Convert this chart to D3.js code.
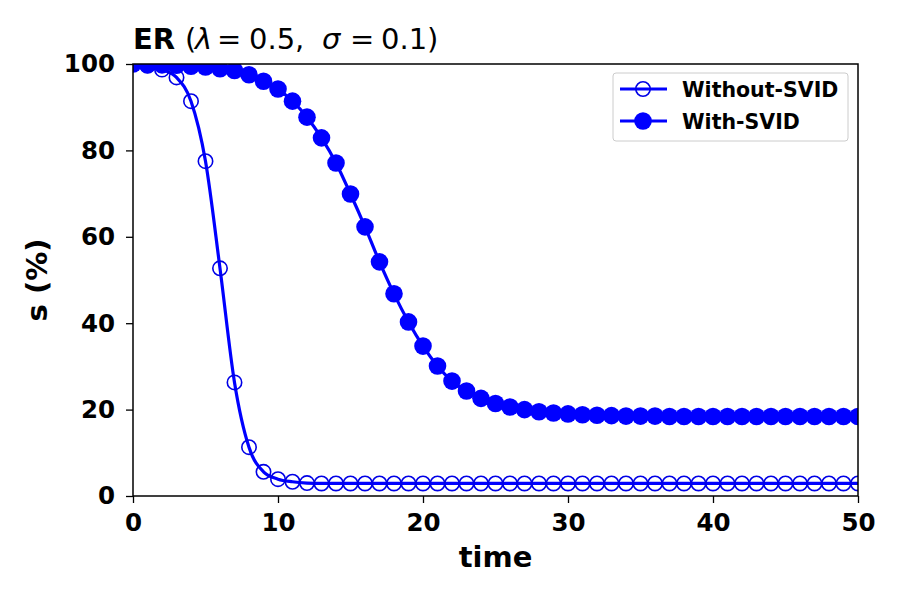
<!DOCTYPE html>
<html><head><meta charset="utf-8">
<script src="https://cdn.jsdelivr.net/npm/d3@7"></script>
<style>body{margin:0;background:#fff}svg{font-family:"DejaVu Sans",sans-serif}</style>
</head><body>
<svg id="c" width="900" height="600"></svg>
<script>
const time = d3.range(0, 51);
const withoutSVID = [100,99.6,98.7,96.9,91.4,77.5,52.7,26.3,11.3,5.6,3.9,3.3,3.0,2.9,2.9,2.9,2.9,2.9,2.9,2.9,2.9,2.9,2.9,2.9,2.9,2.9,2.9,2.9,2.9,2.9,2.9,2.9,2.9,2.9,2.9,2.9,2.9,2.9,2.9,2.9,2.9,2.9,2.9,2.9,2.9,2.9,2.9,2.9,2.9,2.9,2.9];
const withSVID = [100,99.9,99.8,99.7,99.5,99.3,98.9,98.5,97.5,96.0,94.2,91.4,87.7,82.9,77.1,69.9,62.3,54.2,46.8,40.3,34.7,30.1,26.6,24.3,22.6,21.4,20.6,20.0,19.5,19.2,19.0,18.8,18.7,18.6,18.5,18.5,18.5,18.4,18.4,18.4,18.4,18.4,18.4,18.4,18.4,18.4,18.4,18.4,18.4,18.4,18.4];
const xTicks = [0,10,20,30,40,50];
const yTicks = [0,20,40,60,80,100];
const seriesNames = ["Without-SVID","With-SVID"];

const svg = d3.select("#c");
const L=133,R=858,T=64,B=496;
const x = d3.scaleLinear().domain([0,50]).range([L,R]);
const y = d3.scaleLinear().domain([0,100]).range([B,T]);

svg.append("defs").append("clipPath").attr("id","clip").append("rect")
  .attr("x",L).attr("y",T).attr("width",R-L).attr("height",B-T);

const line = d3.line().x((d,i)=>x(time[i])).y(d=>y(d)).curve(d3.curveMonotoneX);
const g = svg.append("g").attr("clip-path","url(#clip)");

g.append("path").datum(withoutSVID).attr("d",line).attr("fill","none").attr("stroke","#0000ff").attr("stroke-width",3.2);
g.selectAll(".o").data(withoutSVID).enter().append("circle")
  .attr("cx",(d,i)=>x(time[i])).attr("cy",d=>y(d)).attr("r",7.2)
  .attr("fill","none").attr("stroke","#0000e6").attr("stroke-width",1.6);

g.append("path").datum(withSVID).attr("d",line).attr("fill","none").attr("stroke","#0000ff").attr("stroke-width",3.2);
g.selectAll(".f").data(withSVID).enter().append("circle")
  .attr("cx",(d,i)=>x(time[i])).attr("cy",d=>y(d)).attr("r",8.8)
  .attr("fill","#0000ff").attr("stroke","none");

// axes
const xa = svg.append("g").attr("transform",`translate(0,${B})`)
  .call(d3.axisBottom(x).tickValues(xTicks).tickSize(7).tickPadding(10).tickFormat(d3.format("d")));
const ya = svg.append("g").attr("transform",`translate(${L},0)`)
  .call(d3.axisLeft(y).tickValues(yTicks).tickSize(7).tickPadding(11).tickFormat(d3.format("d")));
[xa,ya].forEach(a=>{
  a.select(".domain").remove();
  a.selectAll("line").attr("stroke","#000").attr("stroke-width",1.3);
  a.selectAll("text").attr("font-size",24.5).attr("font-weight","bold").attr("fill","#000")
   .attr("font-family","DejaVu Sans");
});
xa.selectAll("text").attr("dy","0.73em");
svg.append("rect").attr("x",L).attr("y",T).attr("width",R-L).attr("height",B-T)
  .attr("fill","none").attr("stroke","#000").attr("stroke-width",1.5);

// labels
svg.append("text").attr("x",(L+R)/2).attr("y",567).attr("text-anchor","middle")
  .attr("font-size",29).attr("font-weight","bold").text("time");
svg.append("text").attr("transform",`translate(47,${(T+B)/2}) rotate(-90)`).attr("text-anchor","middle")
  .attr("font-size",29).attr("font-weight","bold").text("s (%)");

const title = svg.append("text").attr("y",49).attr("font-size",29);
const parts = [["ER","bold","normal",133],["(","normal","normal",185],["λ","normal","italic",195],
  ["=","normal","normal",217],["0.5,","normal","normal",249],["σ","normal","italic",322],
  ["=","normal","normal",350],["0.1)","normal","normal",381]];
parts.forEach(p=>title.append("tspan").attr("x",p[3]).attr("font-weight",p[1]).attr("font-style",p[2]).text(p[0]));

// legend
const lg = svg.append("g");
lg.append("rect").attr("x",613).attr("y",73).attr("width",235).attr("height",68).attr("rx",3)
  .attr("fill","#fff").attr("stroke","#ccc").attr("stroke-width",1);
const rows=[89,121];
seriesNames.forEach((n,i)=>{
  lg.append("line").attr("x1",620).attr("x2",667).attr("y1",rows[i]).attr("y2",rows[i])
    .attr("stroke","#0000ff").attr("stroke-width",3.2);
  if(i===0) lg.append("circle").attr("cx",643).attr("cy",rows[i]).attr("r",7.2).attr("fill","none").attr("stroke","#0000e6").attr("stroke-width",1.6);
  else lg.append("circle").attr("cx",643).attr("cy",rows[i]).attr("r",8.8).attr("fill","#0000ff");
  lg.append("text").attr("x",682).attr("y",rows[i]+7.5).attr("font-size",20.5).attr("font-weight","bold").text(n);
});
</script>
</body></html>
